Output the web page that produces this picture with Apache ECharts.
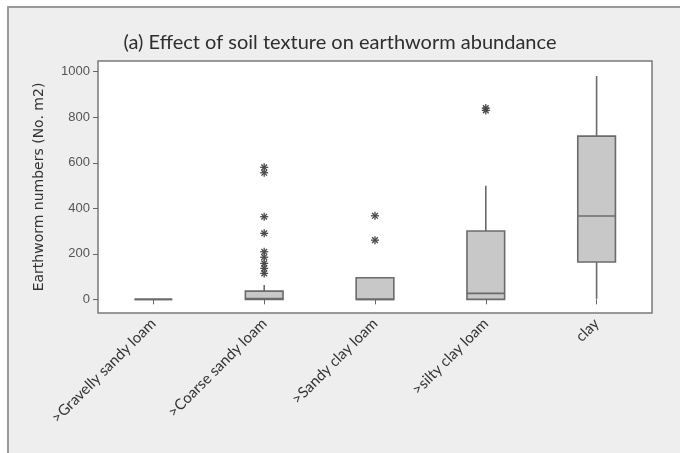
<!DOCTYPE html>
<html>
<head>
<meta charset="utf-8">
<script src="https://cdn.jsdelivr.net/npm/echarts@6/dist/echarts.min.js"></script>
<style>
  html, body { margin: 0; padding: 0; background: #ffffff; }
  #chart { width: 680px; height: 453px; }
</style>
</head>
<body>
<div id="chart"></div>
<script>
// Soil texture classes
var categories = ['>Gravelly sandy loam', '>Coarse sandy loam', '>Sandy clay loam', '>silty clay loam', 'clay'];

// Box statistics per class: [lower whisker, Q1, median, Q3, upper whisker]
var boxGravelly = [0, 0, 0, 0, 0];
var boxCoarse   = [0, 0, 3, 36, 63];
var boxSandy    = [0, 0, 0, 95, 95];
var boxSilty    = [0, 0, 26, 300, 499];
var boxClay     = [2, 164, 366, 717, 981];

// Outliers per class (earthworms per m2)
var outCoarse = [580, 556, 363, 290, 209, 185, 158, 136, 114];
var outSandy  = [367, 260];
var outSilty  = [840, 830];

// Y axis tick labels
var yTicks = [0, 200, 400, 600, 800, 1000];

var boxes = [boxGravelly, boxCoarse, boxSandy, boxSilty, boxClay];
var boxData = boxes.map(function (b, i) { return [i].concat(b); });

var outlierData = [];
outCoarse.forEach(function (v) { outlierData.push([1, v]); });
outSandy.forEach(function (v) { outlierData.push([2, v]); });
outSilty.forEach(function (v) { outlierData.push([3, v]); });

var LINE = '#6b6b6b';

function renderBox(params, api) {
  var x = api.value(0);
  var low = api.coord([x, api.value(1)]);
  var q1 = api.coord([x, api.value(2)]);
  var med = api.coord([x, api.value(3)]);
  var q3 = api.coord([x, api.value(4)]);
  var high = api.coord([x, api.value(5)]);
  var halfW = api.size([1, 0])[0] * 0.17;
  var cx = low[0];
  var style = { stroke: LINE, lineWidth: 1.6, fill: null };
  var children = [];
  if (high[1] < q3[1]) {
    children.push({ type: 'line', shape: { x1: cx, y1: q3[1], x2: cx, y2: high[1] }, style: style });
  }
  if (low[1] > q1[1]) {
    children.push({ type: 'line', shape: { x1: cx, y1: q1[1], x2: cx, y2: low[1] }, style: style });
  }
  children.push({
    type: 'rect',
    shape: { x: cx - halfW, y: q3[1], width: halfW * 2, height: Math.max(q1[1] - q3[1], 0) },
    style: { fill: '#c8c8c8', stroke: LINE, lineWidth: 1.6 }
  });
  children.push({ type: 'line', shape: { x1: cx - halfW, y1: med[1], x2: cx + halfW, y2: med[1] }, style: style });
  return { type: 'group', children: children };
}

function renderStar(params, api) {
  var p = api.coord([api.value(0), api.value(1)]);
  var r = 4;
  var s = { stroke: '#4a4a4a', lineWidth: 1.3 };
  var children = [];
  [0, 45, 90, 135].forEach(function (deg) {
    var a = deg * Math.PI / 180;
    var dx = Math.cos(a) * r, dy = Math.sin(a) * r;
    children.push({ type: 'line', shape: { x1: p[0] - dx, y1: p[1] - dy, x2: p[0] + dx, y2: p[1] + dy }, style: s });
  });
  return { type: 'group', children: children };
}

var chart = echarts.init(document.getElementById('chart'), null, { renderer: 'canvas' });
chart.setOption({
  animation: false,
  backgroundColor: '#ffffff',
  graphic: [{
    type: 'rect',
    left: 7, top: 6, z: -10, silent: true,
    shape: { width: 740, height: 500 },
    style: { fill: '#eeeeee', stroke: '#9a9a9a', lineWidth: 2 }
  }],
  title: {
    text: '(a) Effect of soil texture on earthworm abundance',
    left: 'center', top: 28,
    textStyle: { fontFamily: 'Lato', fontSize: 20, fontWeight: 'normal', color: '#2e2e2e' }
  },
  grid: {
    left: 98, right: 28, top: 61, bottom: 140,
    show: true, backgroundColor: '#ffffff', borderColor: '#7a7a7a', borderWidth: 1.5
  },
  xAxis: {
    type: 'category',
    data: categories,
    boundaryGap: true,
    axisLine: { show: false },
    axisTick: { show: true, alignWithLabel: true, length: 5, lineStyle: { color: '#666666' } },
    splitLine: { show: false },
    axisLabel: {
      rotate: 45, margin: 8, interval: 0,
      fontFamily: 'Lato', fontSize: 15, color: '#333333'
    }
  },
  yAxis: {
    type: 'value',
    min: -60, max: 1047,
    name: 'Earthworm numbers (No. m2)',
    nameLocation: 'middle', nameGap: 52,
    nameTextStyle: { fontFamily: 'DejaVu Sans', fontSize: 14, color: '#333333' },
    axisLine: { show: false },
    splitLine: { show: false },
    axisTick: { show: true, length: 5, customValues: yTicks, lineStyle: { color: '#666666' } },
    axisLabel: {
      customValues: yTicks,
      formatter: function (v) { return String(v); },
      fontFamily: 'Liberation Sans', fontSize: 13, color: '#555555', margin: 8
    }
  },
  series: [
    {
      type: 'custom',
      renderItem: renderBox,
      encode: { x: 0, y: [1, 2, 3, 4, 5] },
      data: boxData
    },
    {
      type: 'custom',
      renderItem: renderStar,
      encode: { x: 0, y: 1 },
      data: outlierData
    }
  ]
});
</script>
</body>
</html>
